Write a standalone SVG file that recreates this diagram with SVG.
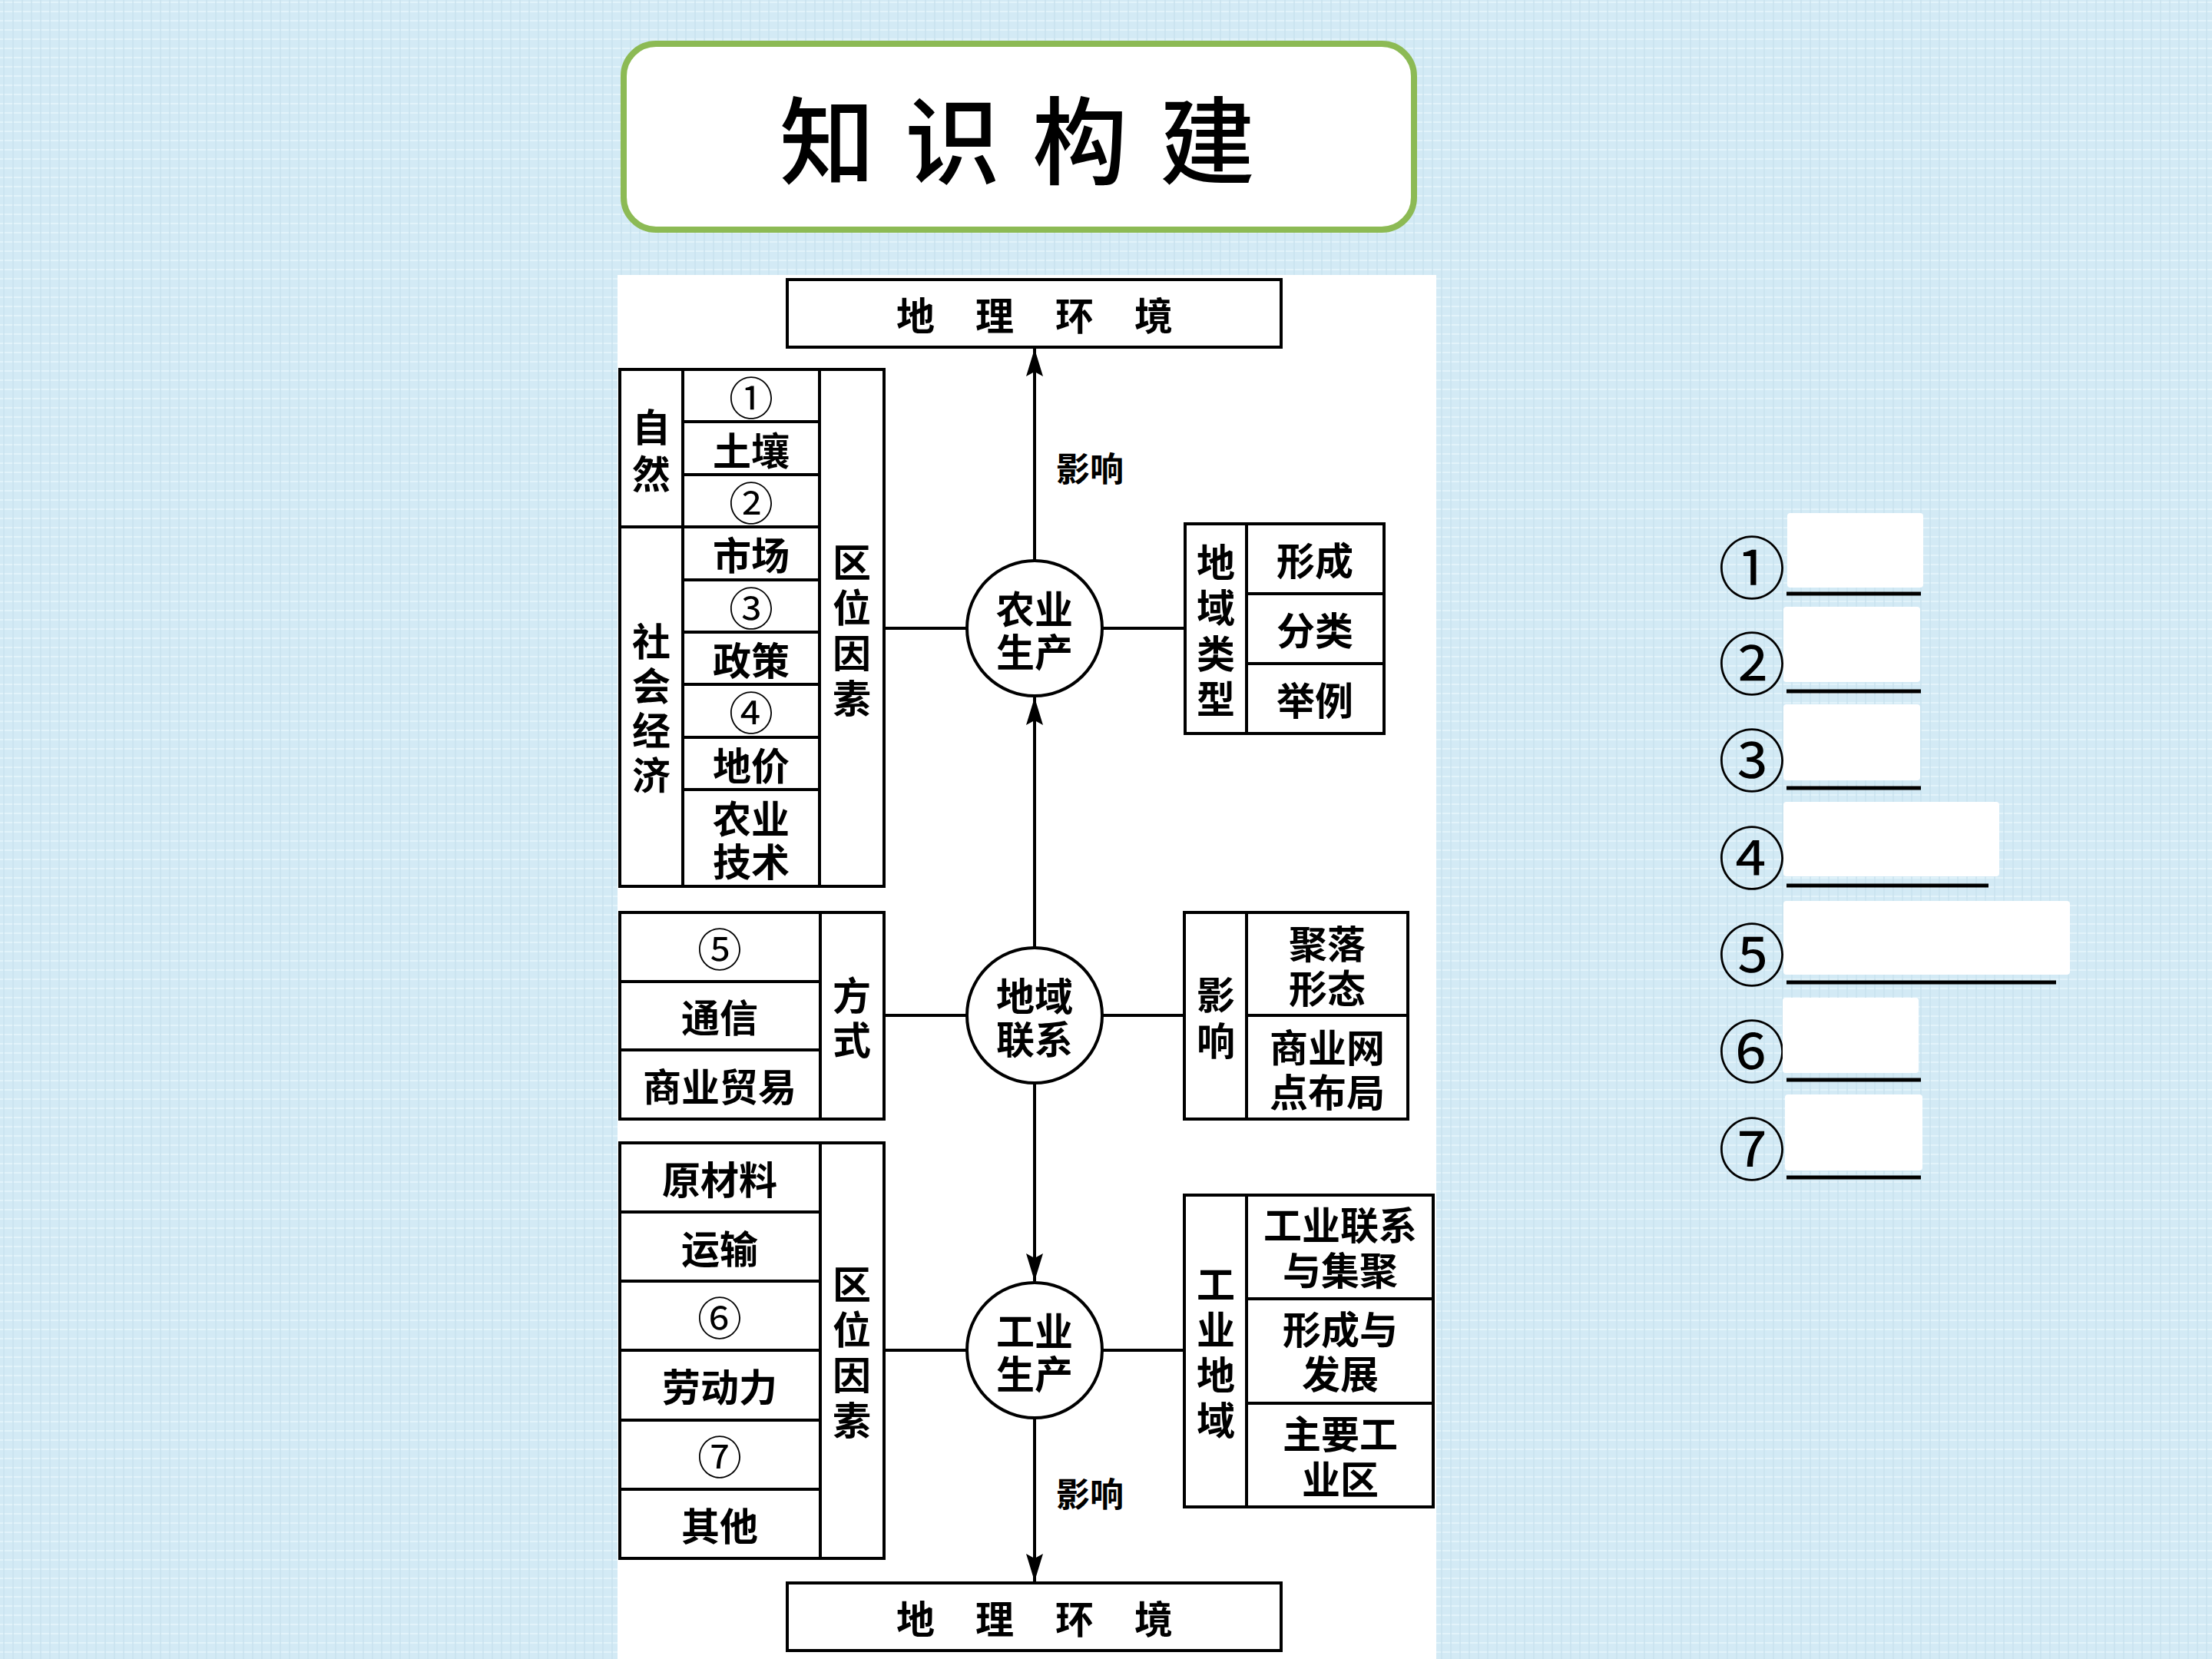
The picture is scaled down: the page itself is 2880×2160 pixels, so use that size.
<svg xmlns="http://www.w3.org/2000/svg" width="2880" height="2160" viewBox="0 0 2880 2160">
<defs>
<style>
.bg{fill:#d3eaf5}
.box{fill:#fff;stroke:#000;stroke-width:4}
.ln{stroke:#000;stroke-width:4;fill:none}
.t{font-family:"Noto Sans CJK SC","Noto Sans CJK TC",sans-serif;font-size:50px;font-weight:700;fill:#000;text-anchor:middle;dominant-baseline:central}
.big{font-size:58px;font-weight:400}
.lbl{font-size:44px}
.title{font-family:"Noto Sans CJK SC",sans-serif;font-size:124px;font-weight:500;fill:#000;text-anchor:middle;dominant-baseline:central}
.num{font-family:"Noto Sans CJK SC",sans-serif;font-size:88px;font-weight:400;fill:#000;text-anchor:middle;dominant-baseline:central}
.cover{fill:#fff}
.ul{stroke:#000;stroke-width:5}
</style>
<pattern id="tex" width="24" height="24" patternUnits="userSpaceOnUse">
<rect width="24" height="24" fill="#d3eaf5"/>
<path d="M0,3 H24 M0,15 H24" stroke="#e2f3fa" stroke-width="2"/>
<path d="M5,0 V24 M17,0 V24" stroke="#c9e2ef" stroke-width="1.5"/>
</pattern>
<marker id="ah" markerUnits="userSpaceOnUse" markerWidth="38" markerHeight="26" refX="36" refY="12" orient="auto">
<path d="M0,1 L36,12 L0,23 L6,12 Z" fill="#000"/>
</marker>
</defs>
<rect x="0" y="0" width="2880" height="2160" fill="url(#tex)"/>

<g id="title">
<rect x="812" y="57" width="1029" height="242" rx="42" ry="42" fill="#fff" stroke="#8cba54" stroke-width="8"/>
<text class="title" x="1077 1240 1406 1572" y="176">知识构建</text>
</g>

<rect id="panel" x="804" y="358" width="1066" height="1802" fill="#fff"/>

<g id="connectors">
<line class="ln" x1="1347" y1="730" x2="1347" y2="454" marker-end="url(#ah)"/>
<line class="ln" x1="1347" y1="1234" x2="1347" y2="908" marker-end="url(#ah)"/>
<line class="ln" x1="1347" y1="1410" x2="1347" y2="1668" marker-end="url(#ah)"/>
<line class="ln" x1="1347" y1="1846" x2="1347" y2="2059" marker-end="url(#ah)"/>
<line class="ln" x1="1151" y1="818" x2="1259" y2="818"/>
<line class="ln" x1="1435" y1="818" x2="1543" y2="818"/>
<line class="ln" x1="1151" y1="1322" x2="1259" y2="1322"/>
<line class="ln" x1="1435" y1="1322" x2="1542" y2="1322"/>
<line class="ln" x1="1151" y1="1758" x2="1259" y2="1758"/>
<line class="ln" x1="1435" y1="1758" x2="1542" y2="1758"/>
<text class="t lbl" x="1419" y="608">影响</text>
<text class="t lbl" x="1419" y="1943">影响</text>
</g>

<g id="env-top">
<rect class="box" x="1025" y="364" width="643" height="88"/>
<text class="t" x="1192 1295 1399 1502" y="408">地理环境</text>
</g>

<g id="env-bottom">
<rect class="box" x="1025" y="2061" width="643" height="88"/>
<text class="t" x="1192 1295 1399 1502" y="2105">地理环境</text>
</g>

<g id="agri">
<circle class="box" cx="1347" cy="818" r="88"/>
<text class="t"><tspan x="1347" y="790">农业</tspan><tspan x="1347" y="846">生产</tspan></text>
</g>

<g id="region-link">
<circle class="box" cx="1347" cy="1322" r="88"/>
<text class="t"><tspan x="1347" y="1294">地域</tspan><tspan x="1347" y="1350">联系</tspan></text>
</g>

<g id="industry">
<circle class="box" cx="1347" cy="1758" r="88"/>
<text class="t"><tspan x="1347" y="1730">工业</tspan><tspan x="1347" y="1786">生产</tspan></text>
</g>

<g id="agri-factors">
<rect class="box" x="807" y="481" width="344" height="673"/>
<line class="ln" x1="889" y1="481" x2="889" y2="1154"/>
<line class="ln" x1="1067" y1="481" x2="1067" y2="1154"/>
<line class="ln" x1="807" y1="686" x2="889" y2="686"/>
<line class="ln" x1="889" y1="549" x2="1067" y2="549"/>
<line class="ln" x1="889" y1="618" x2="1067" y2="618"/>
<line class="ln" x1="889" y1="686" x2="1067" y2="686"/>
<line class="ln" x1="889" y1="755" x2="1067" y2="755"/>
<line class="ln" x1="889" y1="823" x2="1067" y2="823"/>
<line class="ln" x1="889" y1="891" x2="1067" y2="891"/>
<line class="ln" x1="889" y1="960" x2="1067" y2="960"/>
<line class="ln" x1="889" y1="1028" x2="1067" y2="1028"/>
<text class="t"><tspan x="848" y="553">自</tspan><tspan x="848" y="614">然</tspan></text>
<text class="t"><tspan x="848" y="832">社</tspan><tspan x="848" y="890">会</tspan><tspan x="848" y="948">经</tspan><tspan x="848" y="1006">济</tspan></text>
<text class="t big" x="978" y="515">①</text>
<text class="t" x="978" y="584">土壤</text>
<text class="t big" x="978" y="652">②</text>
<text class="t" x="978" y="720">市场</text>
<text class="t big" x="978" y="789">③</text>
<text class="t" x="978" y="857">政策</text>
<text class="t big" x="978" y="925">④</text>
<text class="t" x="978" y="994">地价</text>
<text class="t"><tspan x="978" y="1063">农业</tspan><tspan x="978" y="1119">技术</tspan></text>
<text class="t"><tspan x="1109" y="729">区</tspan><tspan x="1109" y="788">位</tspan><tspan x="1109" y="847">因</tspan><tspan x="1109" y="906">素</tspan></text>
</g>

<g id="agri-types">
<rect class="box" x="1543" y="682" width="259" height="273"/>
<line class="ln" x1="1623" y1="682" x2="1623" y2="955"/>
<line class="ln" x1="1623" y1="773" x2="1802" y2="773"/>
<line class="ln" x1="1623" y1="864" x2="1802" y2="864"/>
<text class="t"><tspan x="1583" y="729">地</tspan><tspan x="1583" y="788">域</tspan><tspan x="1583" y="848">类</tspan><tspan x="1583" y="907">型</tspan></text>
<text class="t" x="1712" y="727">形成</text>
<text class="t" x="1712" y="818">分类</text>
<text class="t" x="1712" y="909">举例</text>
</g>

<g id="link-modes">
<rect class="box" x="807" y="1188" width="344" height="269"/>
<line class="ln" x1="1068" y1="1188" x2="1068" y2="1457"/>
<line class="ln" x1="807" y1="1278" x2="1068" y2="1278"/>
<line class="ln" x1="807" y1="1367" x2="1068" y2="1367"/>
<text class="t big" x="937" y="1233">⑤</text>
<text class="t" x="937" y="1322">通信</text>
<text class="t" x="937" y="1412">商业贸易</text>
<text class="t"><tspan x="1109" y="1293">方</tspan><tspan x="1109" y="1351">式</tspan></text>
</g>

<g id="link-effects">
<rect class="box" x="1542" y="1188" width="291" height="269"/>
<line class="ln" x1="1623" y1="1188" x2="1623" y2="1457"/>
<line class="ln" x1="1623" y1="1322" x2="1833" y2="1322"/>
<text class="t"><tspan x="1583" y="1292">影</tspan><tspan x="1583" y="1352">响</tspan></text>
<text class="t"><tspan x="1728" y="1226">聚落</tspan><tspan x="1728" y="1284">形态</tspan></text>
<text class="t"><tspan x="1728" y="1361">商业网</tspan><tspan x="1728" y="1419">点布局</tspan></text>
</g>

<g id="industry-factors">
<rect class="box" x="807" y="1488" width="344" height="541"/>
<line class="ln" x1="1068" y1="1488" x2="1068" y2="2029"/>
<line class="ln" x1="807" y1="1578" x2="1068" y2="1578"/>
<line class="ln" x1="807" y1="1668" x2="1068" y2="1668"/>
<line class="ln" x1="807" y1="1758" x2="1068" y2="1758"/>
<line class="ln" x1="807" y1="1849" x2="1068" y2="1849"/>
<line class="ln" x1="807" y1="1939" x2="1068" y2="1939"/>
<text class="t" x="937" y="1533">原材料</text>
<text class="t" x="937" y="1623">运输</text>
<text class="t big" x="937" y="1713">⑥</text>
<text class="t" x="937" y="1803">劳动力</text>
<text class="t big" x="937" y="1894">⑦</text>
<text class="t" x="937" y="1984">其他</text>
<text class="t"><tspan x="1109" y="1669">区</tspan><tspan x="1109" y="1728">位</tspan><tspan x="1109" y="1787">因</tspan><tspan x="1109" y="1846">素</tspan></text>
</g>

<g id="industry-regions">
<rect class="box" x="1542" y="1556" width="324" height="406"/>
<line class="ln" x1="1623" y1="1556" x2="1623" y2="1962"/>
<line class="ln" x1="1623" y1="1691" x2="1866" y2="1691"/>
<line class="ln" x1="1623" y1="1827" x2="1866" y2="1827"/>
<text class="t"><tspan x="1583" y="1669">工</tspan><tspan x="1583" y="1728">业</tspan><tspan x="1583" y="1787">地</tspan><tspan x="1583" y="1846">域</tspan></text>
<text class="t"><tspan x="1745" y="1592">工业联系</tspan><tspan x="1745" y="1651">与集聚</tspan></text>
<text class="t"><tspan x="1745" y="1728">形成与</tspan><tspan x="1745" y="1786">发展</tspan></text>
<text class="t"><tspan x="1745" y="1864">主要工</tspan><tspan x="1745" y="1923">业区</tspan></text>
</g>

<g id="answers">
<text class="num" x="2281" y="733">①</text>
<rect class="cover" x="2327" y="668" width="177" height="97" rx="4"/>
<line class="ul" x1="2326" y1="773" x2="2501" y2="773"/>
<text class="num" x="2281" y="858">②</text>
<rect class="cover" x="2322" y="790" width="178" height="98" rx="4"/>
<line class="ul" x1="2326" y1="900" x2="2501" y2="900"/>
<text class="num" x="2281" y="984">③</text>
<rect class="cover" x="2322" y="917" width="178" height="99" rx="4"/>
<line class="ul" x1="2326" y1="1026" x2="2501" y2="1026"/>
<text class="num" x="2281" y="1111">④</text>
<rect class="cover" x="2322" y="1044" width="281" height="97" rx="4"/>
<line class="ul" x1="2326" y1="1153" x2="2589" y2="1153"/>
<text class="num" x="2281" y="1237">⑤</text>
<rect class="cover" x="2322" y="1173" width="373" height="96" rx="4"/>
<line class="ul" x1="2326" y1="1279" x2="2677" y2="1279"/>
<text class="num" x="2281" y="1363">⑥</text>
<rect class="cover" x="2321" y="1299" width="177" height="98" rx="4"/>
<line class="ul" x1="2326" y1="1406" x2="2501" y2="1406"/>
<text class="num" x="2281" y="1490">⑦</text>
<rect class="cover" x="2324" y="1425" width="179" height="99" rx="4"/>
<line class="ul" x1="2326" y1="1533" x2="2501" y2="1533"/>
</g>
</svg>
